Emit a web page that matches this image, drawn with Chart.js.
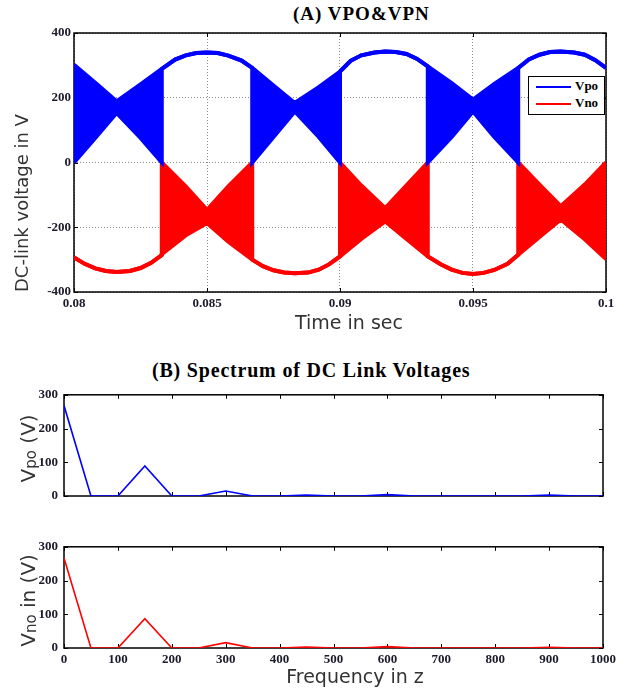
<!DOCTYPE html>
<html>
<head>
<meta charset="utf-8">
<title>VPO&amp;VPN</title>
<script src="https://cdn.jsdelivr.net/npm/chart.js@4.4.1/dist/chart.umd.min.js"></script>
<style>
    body { margin: 0; background: #fff; }
    #page { position: relative; width: 629px; height: 690px; overflow: hidden; }
    canvas { position: absolute; left: 0; }
    .titulo {
        position: absolute;
        font-family: "Liberation Serif", "Times New Roman", serif;
        font-weight: bold;
        color: #000;
        white-space: nowrap;
    }
    #tituloA { left: 293px; top: 4px; font-size: 19px; line-height: 19px; letter-spacing: 1px; }
    #tituloB { left: 152px; top: 360px; font-size: 20px; line-height: 20px; letter-spacing: 0.8px; }
    #legenda {
        position: absolute; left: 528px; top: 76px; width: 77px; height: 39px;
        box-sizing: border-box; border: 1.5px solid #000; background: #fff;
        font-family: "Liberation Serif", "Times New Roman", serif; font-weight: bold; font-size: 13px;
    }
    #legenda .linha { position: absolute; left: 7px; width: 35px; height: 2px; }
    #legenda .texto { position: absolute; left: 46px; line-height: 14px; }
</style>
</head>
<body>
<div id="page">
    <div class="titulo" id="tituloA">(A) VPO&amp;VPN</div>
    <canvas id="chartA" width="629" height="340" style="top:0"></canvas>
    <div id="legenda">
        <div class="linha" style="top:9px; background:#0000ff"></div>
        <div class="texto" style="top:2px">Vpo</div>
        <div class="linha" style="top:26px; background:#ff0000"></div>
        <div class="texto" style="top:19px">Vno</div>
    </div>
    <div class="titulo" id="tituloB">(B) Spectrum of DC Link Voltages</div>
    <canvas id="chartVpo" width="629" height="130" style="top:381px"></canvas>
    <canvas id="chartVno" width="629" height="157" style="top:533px"></canvas>
</div>

<script>
// Envoltórias de Vpo (azul): tempo (s), borda superior e inferior (V)
const blueT  = [0.08, 0.0808, 0.0816, 0.0825, 0.0833,
                0.0833, 0.0838, 0.0842, 0.0846, 0.085, 0.0854, 0.0858, 0.0863, 0.0867,
                0.0867, 0.0875, 0.0883, 0.0892, 0.09,
                0.09, 0.0904, 0.0908, 0.0913, 0.0917, 0.0921, 0.0925, 0.0929, 0.0933,
                0.0933, 0.0942, 0.095, 0.0958, 0.0967,
                0.0967, 0.0971, 0.0975, 0.0979, 0.0983, 0.0988, 0.0992, 0.0996, 0.1];
const blueHi = [302, 246, 189, 241, 289,
                289, 318, 331, 338, 340, 338, 330, 315, 292,
                292, 238, 184, 233, 281,
                281, 314, 331, 340, 343, 341, 335, 320, 297,
                297, 245, 194, 243, 292,
                292, 318, 333, 341, 343, 340, 333, 316, 292];
const blueLo = [0, 76, 153, 76, 0,
                289, 318, 331, 338, 340, 338, 330, 315, 292,
                0, 79, 158, 79, 0,
                281, 314, 331, 340, 343, 341, 335, 320, 297,
                0, 79, 158, 79, 0,
                292, 318, 333, 341, 343, 340, 333, 316, 292];

// Envoltórias de Vno (vermelho)
const redT  = [0.08, 0.0804, 0.0808, 0.0812, 0.0816, 0.0821, 0.0825, 0.0829, 0.0833,
               0.0833, 0.0842, 0.085, 0.0858, 0.0867,
               0.0867, 0.0871, 0.0875, 0.0879, 0.0883, 0.0888, 0.0892, 0.0896, 0.09,
               0.09, 0.0908, 0.0917, 0.0925, 0.0933,
               0.0933, 0.0938, 0.0942, 0.0946, 0.095, 0.0954, 0.0958, 0.0963, 0.0967,
               0.0967, 0.0975, 0.0983, 0.0992, 0.1];
const redHi = [-293, -313, -327, -335, -338, -335, -326, -310, -286,
               0, -74, -146, -74, 0,
               -300, -320, -333, -340, -342, -340, -331, -314, -290,
               0, -71, -141, -71, 0,
               -290, -315, -331, -341, -344, -341, -332, -313, -285,
               0, -68, -135, -68, 0];
const redLo = [-293, -313, -327, -335, -338, -335, -326, -310, -286,
               -283, -225, -187, -245, -300,
               -300, -320, -333, -340, -342, -340, -331, -314, -290,
               -290, -236, -182, -236, -290,
               -290, -315, -331, -341, -344, -341, -332, -313, -285,
               -285, -230, -176, -237, -298];

// Espectro
const freqs   = [0, 50, 100, 150, 200, 250, 300, 350, 400, 450, 500,
                 550, 600, 650, 700, 750, 800, 850, 900, 950, 1000];
const vpoSpec = [268, 0, 0, 89, 0, 0, 15, 0, 0, 3, 0, 0, 4, 0, 0, 0, 0, 0, 3, 0, 0];
const vnoSpec = [267, 0, 0, 87, 0, 0, 16, 0, 0, 3, 0, 0, 4, 0, 0, 0, 0, 0, 2, 0, 0];

// Marcas dos eixos
const timeTickVals   = [0.08, 0.085, 0.09, 0.095, 0.1];
const timeTickLabels = ['0.08', '0.085', '0.09', '0.095', '0.1'];
const voltTickVals   = [-400, -200, 0, 200, 400];
const freqTickVals   = [0, 100, 200, 300, 400, 500, 600, 700, 800, 900, 1000];
const specTickVals   = [0, 100, 200, 300];

const tickFont  = { family: 'Liberation Serif', size: 13, weight: 'bold' };
const tickColor = '#1a1a2a';
const labelColor = '#333';

function pts(xs, ys) {
    return xs.map((x, i) => ({ x: x, y: ys[i] }));
}

function fixTicks(vals) {
    return function (scale) {
        scale.ticks = vals.map(v => ({ value: v }));
    };
}

// Caixa do gráfico com marcas internas (estilo MATLAB)
const caixa = {
    id: 'caixa',
    beforeDatasetsDraw(chart, args, opts) {
        const { ctx, chartArea: a, scales } = chart;
        const len = opts.tickLen || 4;
        ctx.save();
        ctx.strokeStyle = '#000';
        ctx.lineWidth = 1;
        ctx.beginPath();
        scales.x.ticks.forEach(t => {
            const px = Math.round(scales.x.getPixelForValue(t.value)) + 0.5;
            ctx.moveTo(px, a.top); ctx.lineTo(px, a.top + len);
            ctx.moveTo(px, a.bottom); ctx.lineTo(px, a.bottom - len);
        });
        scales.y.ticks.forEach(t => {
            const py = Math.round(scales.y.getPixelForValue(t.value)) + 0.5;
            ctx.moveTo(a.left, py); ctx.lineTo(a.left + len, py);
            ctx.moveTo(a.right, py); ctx.lineTo(a.right - len, py);
        });
        ctx.stroke();
        ctx.lineWidth = opts.lineWidth || 1.5;
        ctx.strokeRect(a.left, a.top, a.width, a.height);
        ctx.restore();
    }
};

// Rótulo vertical com subscrito (Vpo, Vno)
const rotuloY = {
    id: 'rotuloY',
    afterDraw(chart, args, opts) {
        if (!opts.main) return;
        const { ctx, chartArea: a } = chart;
        const partes = [
            { text: opts.main, size: 20, dy: 0 },
            { text: opts.sub, size: 15, dy: 1 },
            { text: opts.rest, size: 20, dy: 0 }
        ];
        ctx.save();
        ctx.translate(opts.x, (a.top + a.bottom) / 2 + 3);
        ctx.rotate(-Math.PI / 2);
        ctx.fillStyle = labelColor;
        ctx.textBaseline = 'alphabetic';
        let total = 0;
        partes.forEach(p => {
            ctx.font = p.size + 'px "DejaVu Sans"';
            p.w = ctx.measureText(p.text).width;
            total += p.w;
        });
        let x = -total / 2;
        partes.forEach(p => {
            ctx.font = p.size + 'px "DejaVu Sans"';
            ctx.fillText(p.text, x, p.dy);
            x += p.w;
        });
        ctx.restore();
    }
};

// Título horizontal do eixo x, posicionado como na figura
const rotuloX = {
    id: 'rotuloX',
    afterDraw(chart, args, opts) {
        if (!opts.text) return;
        const ctx = chart.ctx;
        ctx.save();
        ctx.font = '19px "DejaVu Sans"';
        ctx.fillStyle = labelColor;
        ctx.textAlign = 'center';
        ctx.textBaseline = 'alphabetic';
        ctx.fillText(opts.text, opts.x, opts.y);
        ctx.restore();
    }
};

Chart.register(caixa, rotuloY, rotuloX);

// Gráfico (A): Vpo e Vno no tempo
const ctxA = document.getElementById('chartA').getContext('2d');
const chartA = new Chart(ctxA, {
    type: 'line',
    data: {
        datasets: [
            {
                label: 'Vpo',
                data: pts(blueT, blueHi),
                borderColor: '#0000ff',
                borderWidth: 4,
                pointRadius: 0,
                fill: false
            },
            {
                label: 'Vpo inf',
                data: pts(blueT, blueLo),
                borderColor: '#0000ff',
                backgroundColor: '#0000ff',
                borderWidth: 4,
                pointRadius: 0,
                fill: '-1'
            },
            {
                label: 'Vno',
                data: pts(redT, redHi),
                borderColor: '#ff0000',
                borderWidth: 4,
                pointRadius: 0,
                fill: false
            },
            {
                label: 'Vno inf',
                data: pts(redT, redLo),
                borderColor: '#ff0000',
                backgroundColor: '#ff0000',
                borderWidth: 4,
                pointRadius: 0,
                fill: '-1'
            }
        ]
    },
    options: {
        responsive: false,
        animation: false,
        layout: { padding: { top: 33, right: 23, left: 0, bottom: 0 } },
        plugins: {
            legend: { display: false },
            tooltip: { enabled: false },
            caixa: { tickLen: 4, lineWidth: 1.5 },
            rotuloX: { text: 'Time in sec', x: 349, y: 329 }
        },
        scales: {
            x: {
                type: 'linear',
                min: 0.08,
                max: 0.1,
                afterBuildTicks: fixTicks(timeTickVals),
                afterFit: s => { s.height = 48; },
                ticks: {
                    callback: (v, i) => timeTickLabels[i],
                    font: tickFont, color: tickColor, padding: 4,
                    maxRotation: 0, autoSkip: false
                },
                grid: { color: '#8c8c8c', drawTicks: false },
                border: { display: false, dash: [1, 2] }
            },
            y: {
                min: -400,
                max: 400,
                afterBuildTicks: fixTicks(voltTickVals),
                afterFit: s => { s.width = 74; },
                ticks: { font: tickFont, color: tickColor, padding: 3 },
                grid: { color: '#8c8c8c', drawTicks: false },
                border: { display: false, dash: [1, 2] },
                title: {
                    display: true, text: 'DC-link voltage in V', align: 'start',
                    font: { family: 'DejaVu Sans', size: 18 }, color: labelColor,
                    padding: { top: 13, bottom: 0 }
                }
            }
        }
    }
});

// Gráficos (B): espectros
function specChart(id, values, color, showX, rot) {
    const ctx = document.getElementById(id).getContext('2d');
    return new Chart(ctx, {
        type: 'line',
        data: {
            datasets: [{
                label: rot.main + rot.sub,
                data: pts(freqs, values),
                borderColor: color,
                borderWidth: 1.6,
                pointRadius: 0,
                fill: false
            }]
        },
        options: {
            responsive: false,
            animation: false,
            layout: { padding: { top: 13, right: 26, left: 0, bottom: 0 } },
            plugins: {
                legend: { display: false },
                tooltip: { enabled: false },
                caixa: { tickLen: 4, lineWidth: 1.5 },
                rotuloY: { main: rot.main, sub: rot.sub, rest: rot.rest, x: 35 },
                rotuloX: showX ? { text: 'Frequency in z', x: 355, y: 150 } : {}
            },
            scales: {
                x: {
                    type: 'linear',
                    min: 0,
                    max: 1000,
                    afterBuildTicks: fixTicks(freqTickVals),
                    afterFit: s => { s.height = showX ? 42 : 15; },
                    ticks: {
                        display: showX, callback: v => String(v),
                        font: tickFont, color: tickColor, padding: 4,
                        maxRotation: 0, autoSkip: false
                    },
                    grid: { display: false, drawTicks: false },
                    border: { display: false }
                },
                y: {
                    min: 0,
                    max: 300,
                    afterBuildTicks: fixTicks(specTickVals),
                    afterFit: s => { s.width = 64; },
                    ticks: { font: tickFont, color: tickColor, padding: 6 },
                    grid: { display: false, drawTicks: false },
                    border: { display: false }
                }
            }
        }
    });
}

const chartVpo = specChart('chartVpo', vpoSpec, '#0000ff', false, { main: 'V', sub: 'po', rest: ' (V)' });
const chartVno = specChart('chartVno', vnoSpec, '#ff0000', true, { main: 'V', sub: 'no', rest: ' in (V)' });
</script>
</body>
</html>
